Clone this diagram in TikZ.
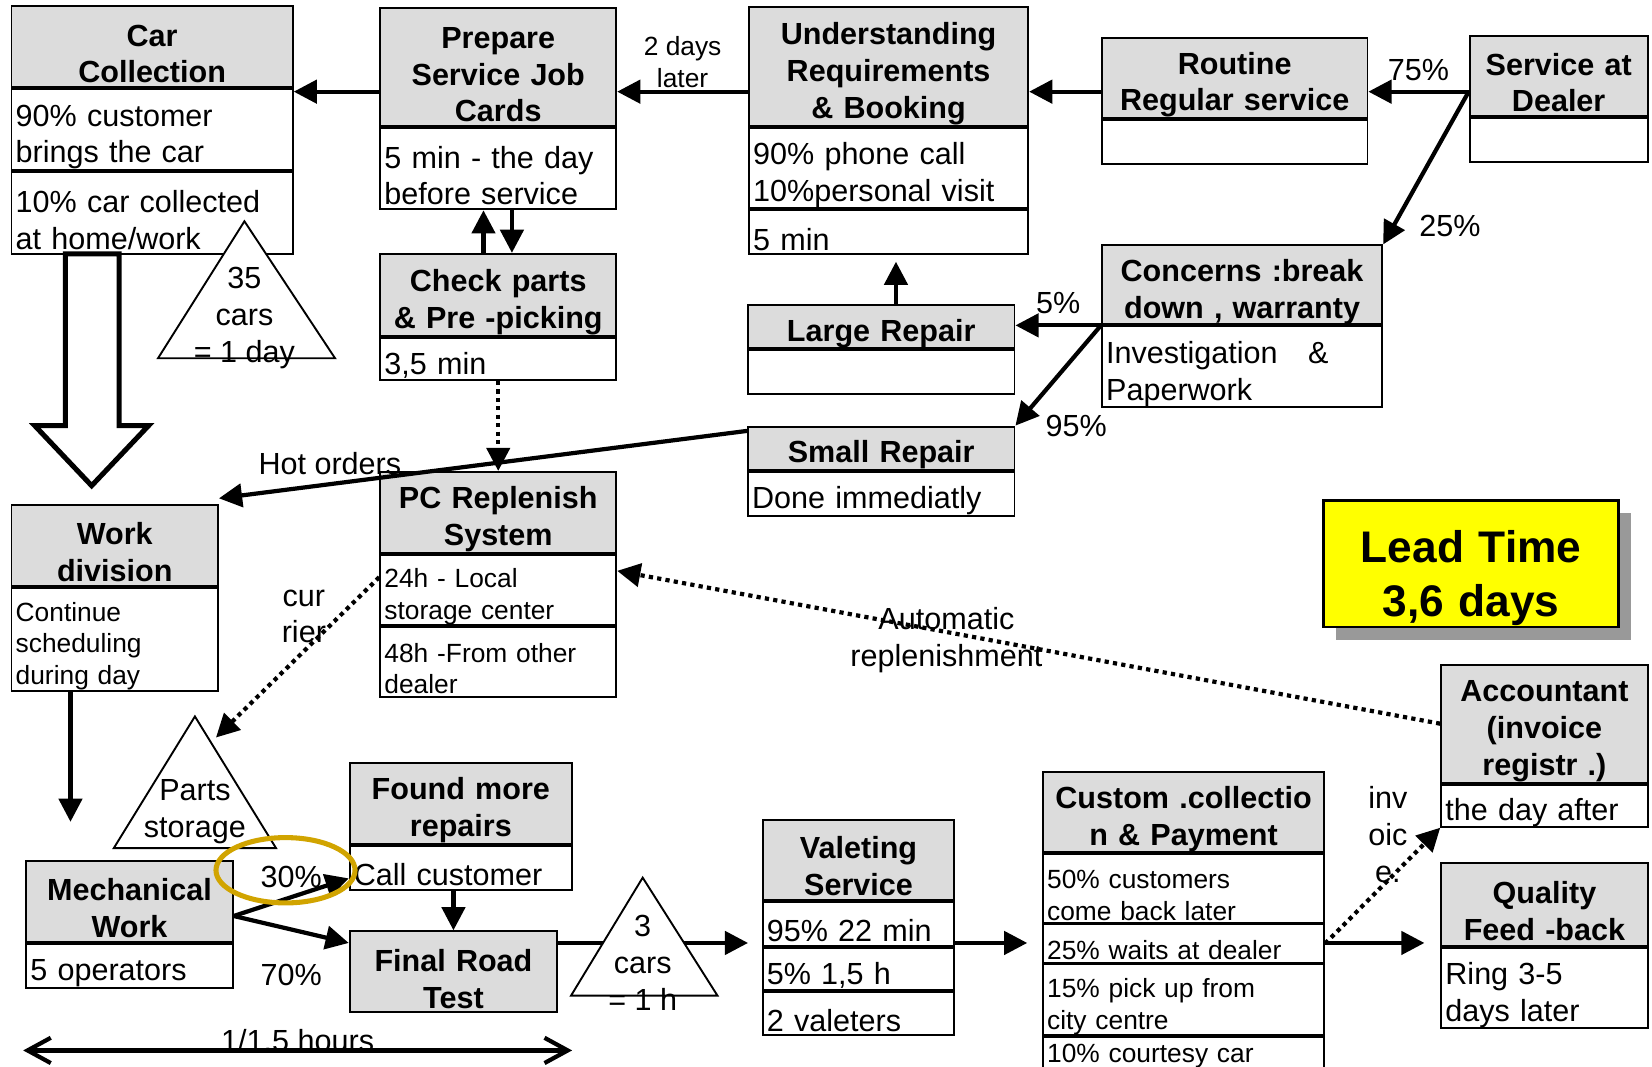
\documentclass[tikz,border=0pt]{standalone}
\usepackage{fontspec}
\setmainfont{Liberation Sans}
\usepackage{xcolor}
\usetikzlibrary{arrows.meta,positioning,shadows}
\definecolor{vsmgray}{HTML}{DCDCDC}
\definecolor{leadyellow}{HTML}{FFFF00}
\definecolor{shadowgray}{HTML}{999999}
\definecolor{ringgold}{HTML}{D1A400}
\newcommand{\boxfont}{\fontsize{14.5}{17.5}\selectfont}
\newcommand{\vsmsmall}{\fontsize{12.5}{15}\selectfont}

\begin{document}
\begin{tikzpicture}[x=0.5pt, y=-0.5pt, every node/.style={font=\boxfont}]
    \tikzstyle{head}=[draw,fill=vsmgray,line width=0.9pt,align=center,inner xsep=2pt,inner ysep=0pt,text height=17pt,font=\boxfont\bfseries]
    \tikzstyle{cell}=[draw,fill=white,line width=0.9pt,align=left,inner xsep=2pt,inner ysep=0pt,text height=17pt]
    \tikzstyle{smallcell}=[cell,font=\vsmsmall,text height=15.5pt]
    \tikzstyle{flow}=[-{Triangle[length=11pt,width=11pt]},line width=2pt]
    \tikzstyle{info}=[-{Triangle[length=11pt,width=11pt]},line width=2pt,dash pattern=on 2pt off 2pt]
    \tikzstyle{stock}=[draw,fill=white,line width=0.9pt]
    \useasboundingbox (0,0) rectangle (1568,1012);
    \coordinate (lvlA) at (0,87);
    \coordinate (lvlB) at (0,895);
    \coordinate (ps-top) at (205,700);
    \coordinate (span-l) at (22,997);
    \coordinate (span-r) at (543,997);
    % upper flow
    \node[head,text width=129.5pt,minimum height=38.5pt,anchor=north west] (cc) at (10,5) {Car\\Collection};
    \node[cell,text width=129.5pt,minimum height=38.5pt,below=0pt of cc] (cc1) {90\% customer\\brings the car};
    \node[cell,text width=129.5pt,minimum height=39pt,below=0pt of cc1] (cc2) {10\% car collected\\at home/work};
    \node[head,text width=108pt,minimum height=56pt,anchor=north west] (prep) at (360,7) {Prepare\\Service Job\\Cards};
    \node[cell,text width=108pt,minimum height=38.5pt,below=0pt of prep] (prep1) {5 min - the day\\before service};
    \node[head,text width=108pt,minimum height=39pt,anchor=north west] (chk) at (360,240) {Check parts\\\& Pre -picking};
    \node[cell,text width=108pt,minimum height=20pt,below=0pt of chk] (chk1) {3,5 min};
    \node[head,text width=128.5pt,minimum height=56.5pt,anchor=north west] (und) at (710,6) {Understanding\\Requirements\\\& Booking};
    \node[cell,text width=128.5pt,minimum height=38pt,below=0pt of und] (und1) {90\% phone call\\10\%personal visit};
    \node[cell,text width=128.5pt,minimum height=21pt,below=0pt of und1] (und2) {5 min};
    \node[head,text width=122pt,minimum height=38pt,anchor=north west] (rout) at (1045,35) {Routine\\Regular service};
    \node[cell,text width=122pt,minimum height=21pt,below=0pt of rout] (rout1) {};
    \node[head,text width=80.5pt,minimum height=38pt,anchor=north west] (sad) at (1394,33) {Service at\\Dealer};
    \node[cell,text width=80.5pt,minimum height=21pt,below=0pt of sad] (sad1) {};
    \node[head,text width=129pt,minimum height=37pt,anchor=north west] (conc) at (1045,232) {Concerns :break\\down , warranty};
    \node[cell,text width=129pt,minimum height=38.5pt,below=0pt of conc] (conc1) {Investigation~~~\&\\Paperwork};
    \node[head,text width=122.5pt,minimum height=20pt,anchor=north west] (lrep) at (709,289) {Large Repair};
    \node[cell,text width=122.5pt,minimum height=21pt,below=0pt of lrep] (lrep1) {};
    \node[head,text width=122.5pt,minimum height=20.5pt,anchor=north west] (srep) at (709,404) {Small Repair};
    \node[cell,text width=122.5pt,minimum height=21pt,below=0pt of srep] (srep1) {Done immediatly};
    \node[head,text width=108pt,minimum height=38.5pt,anchor=north west] (pcr) at (360,447) {PC Replenish\\System};
    \node[smallcell,text width=108pt,minimum height=33pt,below=0pt of pcr] (pcr1) {24h - Local\\storage center};
    \node[smallcell,text width=108pt,minimum height=33.5pt,below=0pt of pcr1] (pcr2) {48h -From other\\dealer};
    \node[head,text width=94pt,minimum height=38.5pt,anchor=north west] (wdiv) at (10,478) {Work\\division};
    \node[smallcell,text width=94pt,minimum height=49pt,below=0pt of wdiv] (wdiv1) {Continue\\scheduling\\during day};
    % lower flow
    \node[head,text width=94pt,minimum height=38.5pt,anchor=north west] (mech) at (24,816) {Mechanical\\Work};
    \node[cell,text width=94pt,minimum height=21pt,below=0pt of mech] (mech1) {5 operators};
    \node[head,text width=101.5pt,minimum height=38.5pt,anchor=north west] (found) at (331,723) {Found more\\repairs};
    \node[cell,text width=101.5pt,minimum height=21pt,below=0pt of found] (found1) {Call customer};
    \node[head,text width=94.5pt,minimum height=38.5pt,anchor=north west] (final) at (331,883) {Final Road\\Test};
    \node[head,text width=87pt,minimum height=38pt,anchor=north west] (val) at (723,777) {Valeting\\Service};
    \node[cell,text width=87pt,minimum height=21pt,below=0pt of val] (val1) {95\% 22 min};
    \node[cell,text width=87pt,minimum height=20pt,below=0pt of val1] (val2) {5\% 1,5 h};
    \node[cell,text width=87pt,minimum height=20.5pt,below=0pt of val2] (val3) {2 valeters};
    \node[head,text width=129.5pt,minimum height=38pt,anchor=north west] (cust) at (989,732) {Custom .collectio\\n \& Payment};
    \node[smallcell,text width=129.5pt,minimum height=32.5pt,below=0pt of cust] (cust1) {50\% customers\\come back later};
    \node[smallcell,text width=129.5pt,minimum height=18pt,below=0pt of cust1] (cust2) {25\% waits at dealer};
    \node[smallcell,text width=129.5pt,minimum height=33.5pt,below=0pt of cust2] (cust3) {15\% pick up from\\city centre};
    \node[smallcell,text width=129.5pt,minimum height=18pt,text height=9pt,below=0pt of cust3] (cust4) {10\% courtesy car};
    \node[head,text width=94pt,minimum height=56pt,anchor=north west] (acc) at (1367,630) {Accountant\\(invoice\\registr .)};
    \node[cell,text width=94pt,minimum height=19pt,below=0pt of acc] (acc1) {the day after};
    \node[head,text width=94pt,minimum height=39.5pt,anchor=north west] (qual) at (1367,818) {Quality\\Feed -back};
    \node[cell,text width=94pt,minimum height=38pt,below=0pt of qual] (qual1) {Ring 3-5\\days later};
    \node[draw,fill=leadyellow,line width=1.2pt,text width=136pt,minimum height=60pt,anchor=north west,align=center,inner xsep=2pt,inner ysep=0pt,text height=29pt,font=\fontsize{21}{25.5}\selectfont\bfseries,drop shadow={shadow xshift=6pt,shadow yshift=-6pt,fill=shadowgray,opacity=1}] (lead) at (1255,474) {Lead Time\\3,6 days};
    % connectors
    \draw[flow] (prep.west |- lvlA) -- (cc.east |- lvlA);
    \draw[flow] (und.west |- lvlA) -- node[above=0pt,inner sep=1pt,align=center,font=\vsmsmall] {2 days\\later} (prep.east |- lvlA);
    \draw[flow] (rout.west |- lvlA) -- (und.east |- lvlA);
    \draw[flow] (sad.west |- lvlA) -- node[above=1pt] {75\%} (rout.east |- lvlA);
    \draw[flow] (sad.west |- lvlA) -- node[pos=0.88,right=8pt] {25\%} (conc.north east);
    \draw[flow] (conc.south west) -- node[above=1pt] {5\%} (lrep.east |- conc.south west);
    \draw[flow] (conc.south west) -- node[pos=1,right=10pt] {95\%} (srep.north east);
    \draw[flow,shorten >=3pt] ([xshift=7pt]lrep.north) -- ([xshift=3.5pt]und2.south);
    \draw[flow] ([xshift=-7pt]chk.north) -- ([xshift=-7pt]prep1.south);
    \draw[flow] ([xshift=6.5pt]prep1.south) -- ([xshift=6.5pt]chk.north);
    \draw[info] (chk1.south) -- (pcr.north);
    \draw[flow] ([yshift=-2.5pt]srep.north west) -- node[pos=0.79,above=0pt] {Hot orders} ([yshift=2.5pt]wdiv.north east);
    \draw[info] ([yshift=6pt]pcr1.west) -- node[pos=0.245,left=2pt,align=center] {cur\\rier} (ps-top);
    \draw[flow,shorten >=18pt] ([xshift=-21pt]wdiv1.south) -- ([xshift=-28pt]mech.north);
    \draw[flow] ([yshift=-7pt]mech.east) -- node[pos=0.5,above=0pt] {30\%} ([yshift=-5pt]found1.west);
    \draw[flow] ([yshift=-7pt]mech.east) -- node[pos=0.5,below=12pt] {70\%} ([yshift=-6pt]final.north west);
    \draw[flow] (found1.south -| final.north) -- (final.north);
    \draw[flow,shorten >=6.5pt] (final.east |- lvlB) -- (val.west |- lvlB);
    \draw[flow,shorten >=7pt] (val.east |- lvlB) -- (cust.west |- lvlB);
    \draw[flow,shorten >=7.5pt] (cust.east |- lvlB) -- (qual.west |- lvlB);
    \draw[info] (cust2.east) -- node[pos=0.94,left=8pt,align=center] {inv\\oic\\e.} (acc1.south west);
    \draw[info] (acc.west) -- node[pos=0.6,yshift=-4pt,align=center] {Automatic\\replenishment} ([yshift=-8pt]pcr1.north east);
    \draw[{Straight Barb[length=11pt,width=12pt]}-{Straight Barb[length=11pt,width=12pt]},line width=2pt] (span-l) -- node[midway,yshift=4.5pt] {1/1.5 hours} (span-r);
    % car collection to work division
    \draw[line width=2.4pt,fill=white] (62,241) -- (62,404) -- (33,404) -- (87,461) -- (141,404) -- (113,404) -- (113,241) -- cycle;
    % stock triangles
    \draw[stock] (150,340) -- (232,210) -- (318,340) -- cycle;
    \node[align=center] (inv1) at (232,302) {35\\cars\\= 1 day};
    \draw[stock] (108,805) -- (185,680) -- (262,805) -- cycle;
    \node[align=center] (inv2) at (185,770) {Parts\\storage};
    \draw[stock] (542,945) -- (610,833) -- (681,945) -- cycle;
    \node[align=center] (inv3) at (610,914) {3\\cars\\= 1 h};
    \draw[ringgold,line width=2.4pt] (271,826) ellipse [x radius=66, y radius=31];
\end{tikzpicture}
\end{document}
